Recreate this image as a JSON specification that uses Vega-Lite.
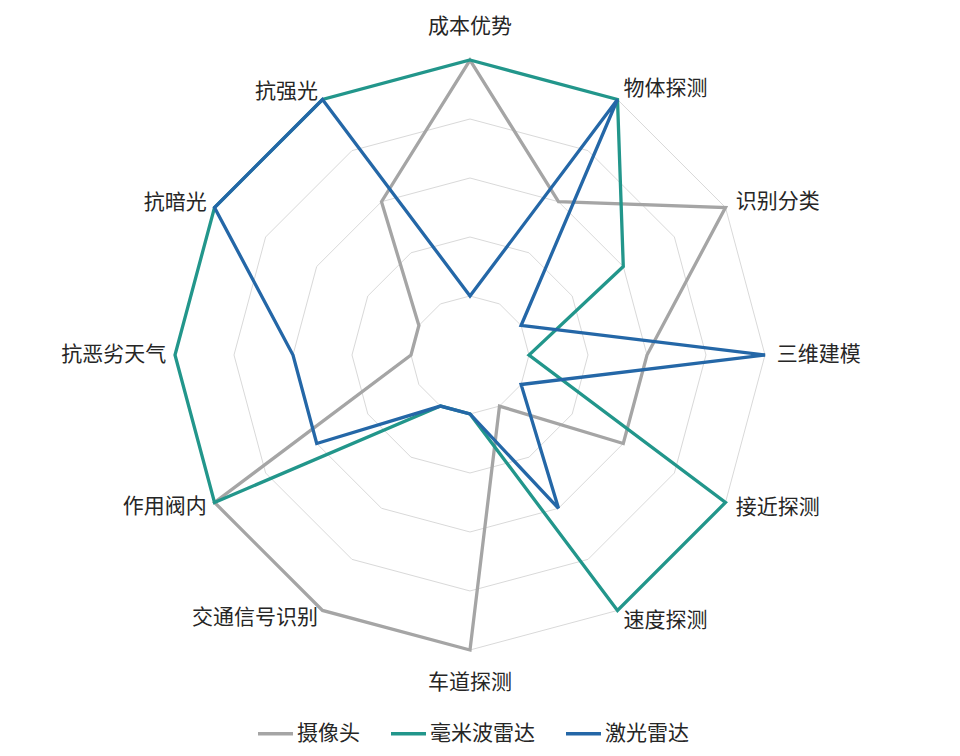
{
  "$schema": "https://vega.github.io/schema/vega-lite/v6.json",
  "width": 960,
  "height": 756,
  "autosize": {"type": "none"},
  "padding": 0,
  "background": "white",
  "config": {"view": {"stroke": null}, "font": "Noto Sans CJK SC"},
  "datasets": {
    "axes": [
      {"axis": "成本优势", "k": 0, "rings": [1, 2, 3, 4, 5]},
      {"axis": "物体探测", "k": 1, "rings": [1, 2, 3, 4, 5]},
      {"axis": "识别分类", "k": 2, "rings": [1, 2, 3, 4, 5]},
      {"axis": "三维建模", "k": 3, "rings": [1, 2, 3, 4, 5]},
      {"axis": "接近探测", "k": 4, "rings": [1, 2, 3, 4, 5]},
      {"axis": "速度探测", "k": 5, "rings": [1, 2, 3, 4, 5]},
      {"axis": "车道探测", "k": 6, "rings": [1, 2, 3, 4, 5]},
      {"axis": "交通信号识别", "k": 7, "rings": [1, 2, 3, 4, 5]},
      {"axis": "作用阀内", "k": 8, "rings": [1, 2, 3, 4, 5]},
      {"axis": "抗恶劣天气", "k": 9, "rings": [1, 2, 3, 4, 5]},
      {"axis": "抗暗光", "k": 10, "rings": [1, 2, 3, 4, 5]},
      {"axis": "抗强光", "k": 11, "rings": [1, 2, 3, 4, 5]}
    ],
    "scores": [
      {"sensor": "摄像头", "axis": "成本优势", "score": 5},
      {"sensor": "摄像头", "axis": "物体探测", "score": 3},
      {"sensor": "摄像头", "axis": "识别分类", "score": 5},
      {"sensor": "摄像头", "axis": "三维建模", "score": 3},
      {"sensor": "摄像头", "axis": "接近探测", "score": 3},
      {"sensor": "摄像头", "axis": "速度探测", "score": 1},
      {"sensor": "摄像头", "axis": "车道探测", "score": 5},
      {"sensor": "摄像头", "axis": "交通信号识别", "score": 5},
      {"sensor": "摄像头", "axis": "作用阀内", "score": 5},
      {"sensor": "摄像头", "axis": "抗恶劣天气", "score": 1},
      {"sensor": "摄像头", "axis": "抗暗光", "score": 1},
      {"sensor": "摄像头", "axis": "抗强光", "score": 3},
      {"sensor": "毫米波雷达", "axis": "成本优势", "score": 5},
      {"sensor": "毫米波雷达", "axis": "物体探测", "score": 5},
      {"sensor": "毫米波雷达", "axis": "识别分类", "score": 3},
      {"sensor": "毫米波雷达", "axis": "三维建模", "score": 1},
      {"sensor": "毫米波雷达", "axis": "接近探测", "score": 5},
      {"sensor": "毫米波雷达", "axis": "速度探测", "score": 5},
      {"sensor": "毫米波雷达", "axis": "车道探测", "score": 1},
      {"sensor": "毫米波雷达", "axis": "交通信号识别", "score": 1},
      {"sensor": "毫米波雷达", "axis": "作用阀内", "score": 5},
      {"sensor": "毫米波雷达", "axis": "抗恶劣天气", "score": 5},
      {"sensor": "毫米波雷达", "axis": "抗暗光", "score": 5},
      {"sensor": "毫米波雷达", "axis": "抗强光", "score": 5},
      {"sensor": "激光雷达", "axis": "成本优势", "score": 1},
      {"sensor": "激光雷达", "axis": "物体探测", "score": 5},
      {"sensor": "激光雷达", "axis": "识别分类", "score": 1},
      {"sensor": "激光雷达", "axis": "三维建模", "score": 5},
      {"sensor": "激光雷达", "axis": "接近探测", "score": 1},
      {"sensor": "激光雷达", "axis": "速度探测", "score": 3},
      {"sensor": "激光雷达", "axis": "车道探测", "score": 1},
      {"sensor": "激光雷达", "axis": "交通信号识别", "score": 1},
      {"sensor": "激光雷达", "axis": "作用阀内", "score": 3},
      {"sensor": "激光雷达", "axis": "抗恶劣天气", "score": 3},
      {"sensor": "激光雷达", "axis": "抗暗光", "score": 5},
      {"sensor": "激光雷达", "axis": "抗强光", "score": 5}
    ]
  },
  "layer": [
    {
      "data": {"name": "axes"},
      "transform": [
        {"flatten": ["rings"]},
        {"calculate": "datum.rings * sin(datum.k * PI / 6)", "as": "px"},
        {"calculate": "datum.rings * cos(datum.k * PI / 6)", "as": "py"}
      ],
      "mark": {"type": "line", "interpolate": "linear-closed", "stroke": "#d9d9d9", "strokeWidth": 1},
      "encoding": {
        "x": {"field": "px", "type": "quantitative", "scale": {"domain": [-7.966, 8.305]}, "axis": null},
        "y": {"field": "py", "type": "quantitative", "scale": {"domain": [-6.797, 6.017]}, "axis": null},
        "detail": {"field": "rings"},
        "order": {"field": "k"}
      }
    },
    {
      "data": {"name": "scores"},
      "transform": [
        {"lookup": "axis", "from": {"data": {"name": "axes"}, "key": "axis", "fields": ["k"]}},
        {"calculate": "datum.score * sin(datum.k * PI / 6)", "as": "px"},
        {"calculate": "datum.score * cos(datum.k * PI / 6)", "as": "py"}
      ],
      "mark": {"type": "line", "interpolate": "linear-closed", "strokeWidth": 3.3, "strokeJoin": "miter"},
      "encoding": {
        "x": {"field": "px", "type": "quantitative", "scale": {"domain": [-7.966, 8.305]}, "axis": null},
        "y": {"field": "py", "type": "quantitative", "scale": {"domain": [-6.797, 6.017]}, "axis": null},
        "color": {
          "field": "sensor",
          "type": "nominal",
          "sort": ["摄像头", "毫米波雷达", "激光雷达"],
          "scale": {"domain": ["摄像头", "毫米波雷达", "激光雷达"], "range": ["#a5a5a5", "#22968b", "#2467a7"]},
          "legend": {
            "orient": "none",
            "legendX": 256,
            "legendY": 714,
            "direction": "horizontal",
            "title": null,
            "padding": 0,
            "labelFont": "Noto Sans CJK SC",
            "labelFontSize": 21,
            "labelColor": "#262626",
            "labelOffset": 2,
            "symbolType": "stroke",
            "symbolSize": 1225,
            "symbolStrokeWidth": 3.3,
            "columnPadding": 24
          }
        },
        "order": {"field": "k"}
      }
    },
    {
      "data": {"name": "axes"},
      "transform": [
        {"filter": "datum.k % 6 == 0"},
        {"calculate": "5.56 * sin(datum.k * PI / 6)", "as": "px"},
        {"calculate": "5.56 * cos(datum.k * PI / 6)", "as": "py"}
      ],
      "mark": {"type": "text", "align": "center", "baseline": "middle", "fontSize": 21, "font": "Noto Sans CJK SC", "color": "#262626"},
      "encoding": {
        "x": {"field": "px", "type": "quantitative", "scale": {"domain": [-7.966, 8.305]}, "axis": null},
        "y": {"field": "py", "type": "quantitative", "scale": {"domain": [-6.797, 6.017]}, "axis": null},
        "text": {"field": "axis"}
      }
    },
    {
      "data": {"name": "axes"},
      "transform": [
        {"filter": "datum.k >= 1 && datum.k <= 5"},
        {"calculate": "5.2 * sin(datum.k * PI / 6)", "as": "px"},
        {"calculate": "5.2 * cos(datum.k * PI / 6)", "as": "py"}
      ],
      "mark": {"type": "text", "align": "left", "baseline": "middle", "fontSize": 21, "font": "Noto Sans CJK SC", "color": "#262626"},
      "encoding": {
        "x": {"field": "px", "type": "quantitative", "scale": {"domain": [-7.966, 8.305]}, "axis": null},
        "y": {"field": "py", "type": "quantitative", "scale": {"domain": [-6.797, 6.017]}, "axis": null},
        "text": {"field": "axis"}
      }
    },
    {
      "data": {"name": "axes"},
      "transform": [
        {"filter": "datum.k >= 7"},
        {"calculate": "5.15 * sin(datum.k * PI / 6)", "as": "px"},
        {"calculate": "5.15 * cos(datum.k * PI / 6)", "as": "py"}
      ],
      "mark": {"type": "text", "align": "right", "baseline": "middle", "fontSize": 21, "font": "Noto Sans CJK SC", "color": "#262626"},
      "encoding": {
        "x": {"field": "px", "type": "quantitative", "scale": {"domain": [-7.966, 8.305]}, "axis": null},
        "y": {"field": "py", "type": "quantitative", "scale": {"domain": [-6.797, 6.017]}, "axis": null},
        "text": {"field": "axis"}
      }
    }
  ]
}
